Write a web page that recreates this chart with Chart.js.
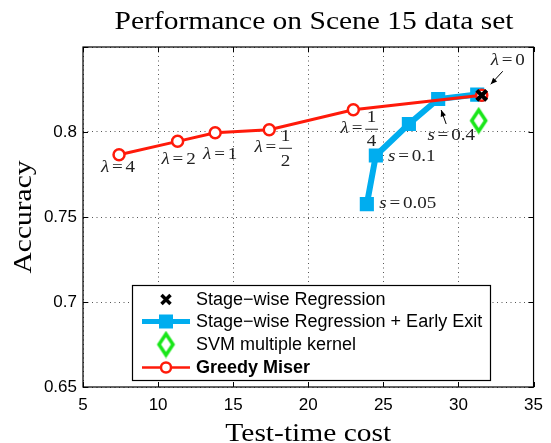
<!DOCTYPE html>
<html>
<head>
<meta charset="utf-8">
<script src="https://cdn.jsdelivr.net/npm/chart.js@4/dist/chart.umd.min.js"></script>
<style>
html,body{margin:0;padding:0;background:#fff;}
#wrap{width:551px;height:443px;position:relative;}
</style>
</head>
<body>
<div id="wrap"><canvas id="c" width="551" height="443"></canvas></div>
<script>
// ---- data ----
const greedyCost = [7.4, 11.3, 13.8, 17.4, 23.0, 31.55];
const greedyAcc  = [0.7866, 0.7945, 0.7996, 0.8013, 0.8131, 0.8216];
const greedyLabels = ['4', '2', '1', '1/2', '1/4', '0'];

const earlyCost = [23.9, 24.5, 26.7, 28.65, 31.25];
const earlyAcc  = [0.7576, 0.7862, 0.8047, 0.8194, 0.8220];
const earlyLabels = ['0.05', '0.1', '', '0.4', ''];

const stageCost = [31.55];
const stageAcc  = [0.8216];

const svmCost = [31.35];
const svmAcc  = [0.8067];

const xTicks = [5, 10, 15, 20, 25, 30, 35];
const yTicks = [0.65, 0.7, 0.75, 0.8];

const legendNames = ['Stage\u2212wise Regression', 'Stage\u2212wise Regression + Early Exit', 'SVM multiple kernel', 'Greedy Miser'];

// ---- styles ----
const RED = '#ff1a0a', BLUE = '#00adef', GREEN = '#18e618';
const SERIF = '"Liberation Serif", "DejaVu Serif", serif';
const SANS = '"Liberation Sans", Arial, sans-serif';
const STRETCH = 1.18;
const MSTRETCH = 1.12;

function diamondCanvas(w, h, lw) {
  const c = document.createElement('canvas');
  c.width = w; c.height = h;
  const g = c.getContext('2d');
  g.strokeStyle = GREEN; g.lineWidth = lw; g.fillStyle = '#fff';
  g.beginPath();
  g.moveTo(w / 2, lw); g.lineTo(w - lw, h / 2); g.lineTo(w / 2, h - lw); g.lineTo(lw, h / 2); g.closePath();
  g.fill(); g.stroke();
  return c;
}
const diamond = diamondCanvas(21, 28, 3.5);

function pts(xs, ys) { return xs.map((x, i) => ({x: x, y: ys[i]})); }

// draw "sym = value" with LaTeX-ish look; value may be fraction "a/b"
function mathLabel(ctx, sym, val, x, y, size) {
  ctx.save();
  ctx.translate(x, y);
  ctx.scale(MSTRETCH, 1);
  ctx.fillStyle = '#222';
  ctx.textBaseline = 'middle';
  ctx.textAlign = 'left';
  const it = 'italic ' + size + 'px ' + SERIF;
  const up = size + 'px ' + SERIF;
  const gap = 2.5;
  ctx.font = it;
  const w1 = ctx.measureText(sym).width;
  ctx.font = up;
  const wEq = ctx.measureText('=').width;
  let total = w1 + wEq + 2 * gap;
  const frac = val.indexOf('/') >= 0;
  let num, den, wv;
  if (frac) { [num, den] = val.split('/'); wv = Math.max(ctx.measureText(num).width, ctx.measureText(den).width) + 3; }
  else { wv = ctx.measureText(val).width; }
  total += wv;
  let cx = -total / 2;
  ctx.font = it; ctx.fillText(sym, cx, 0); cx += w1 + gap;
  ctx.font = up; ctx.fillText('=', cx, 0); cx += wEq + gap;
  if (frac) {
    ctx.textAlign = 'center';
    ctx.fillText(num, cx + wv / 2, -size * 0.68);
    ctx.fillText(den, cx + wv / 2, size * 0.78);
    ctx.strokeStyle = '#222'; ctx.lineWidth = 1;
    ctx.beginPath(); ctx.moveTo(cx, 0.5); ctx.lineTo(cx + wv, 0.5); ctx.stroke();
  } else {
    ctx.fillText(val, cx, 0);
  }
  ctx.restore();
}

function arrow(ctx, x1, y1, x2, y2) {
  ctx.save();
  ctx.strokeStyle = '#000'; ctx.fillStyle = '#000'; ctx.lineWidth = 1;
  ctx.beginPath(); ctx.moveTo(x1, y1); ctx.lineTo(x2, y2); ctx.stroke();
  const a = Math.atan2(y2 - y1, x2 - x1), L = 7, s = 0.4;
  ctx.beginPath();
  ctx.moveTo(x2, y2);
  ctx.lineTo(x2 - L * Math.cos(a - s), y2 - L * Math.sin(a - s));
  ctx.lineTo(x2 - L * Math.cos(a + s), y2 - L * Math.sin(a + s));
  ctx.closePath(); ctx.fill();
  ctx.restore();
}

function stretchedText(ctx, text, x, y, font) {
  ctx.save();
  ctx.font = font;
  ctx.translate(x, y);
  ctx.scale(STRETCH, 1);
  ctx.textAlign = 'center'; ctx.textBaseline = 'alphabetic';
  ctx.fillText(text, 0, 0);
  ctx.restore();
}

const decor = {
  id: 'decor',
  afterDraw(chart) {
    const ctx = chart.ctx, a = chart.chartArea, xs = chart.scales.x, ys = chart.scales.y;
    ctx.save();
    ctx.strokeStyle = '#000'; ctx.lineWidth = 1.2;
    ctx.strokeRect(a.left, a.top, a.right - a.left, a.bottom - a.top);
    ctx.lineWidth = 1;
    ctx.beginPath();
    xTicks.forEach(v => { const p = Math.round(xs.getPixelForValue(v)) + 0.5;
      ctx.moveTo(p, a.bottom); ctx.lineTo(p, a.bottom - 5); ctx.moveTo(p, a.top); ctx.lineTo(p, a.top + 5); });
    [0.65, 0.7, 0.75, 0.8, 0.85].forEach(v => { const p = Math.round(ys.getPixelForValue(v)) + 0.5;
      ctx.moveTo(a.left, p); ctx.lineTo(a.left + 5, p); ctx.moveTo(a.right, p); ctx.lineTo(a.right - 5, p); });
    ctx.stroke();
    ctx.fillStyle = '#000';
    stretchedText(ctx, 'Performance on Scene 15 data set', 314, 29, '25px ' + SERIF);
    stretchedText(ctx, 'Test-time cost', (a.left + a.right) / 2, 441, '25px ' + SERIF);
    ctx.save();
    ctx.translate(31, (a.top + a.bottom) / 2);
    ctx.rotate(-Math.PI / 2);
    stretchedText(ctx, 'Accuracy', 0, 0, '25px ' + SERIF);
    ctx.restore();
    ctx.restore();

    const gx = i => xs.getPixelForValue(greedyCost[i]), gy = i => ys.getPixelForValue(greedyAcc[i]);
    const ex = i => xs.getPixelForValue(earlyCost[i]), ey = i => ys.getPixelForValue(earlyAcc[i]);
    const gOff = [[-1, 13], [1, 18], [5, 22], [4, 18], [6, 19], [26, -35]];
    greedyLabels.forEach((lab, i) => {
      mathLabel(ctx, '\u03bb', lab, gx(i) + gOff[i][0], gy(i) + gOff[i][1], 17);
    });
    arrow(ctx, gx(5) + 21, gy(5) - 24, gx(5) + 9, gy(5) - 11);
    const eOff = [[41, -1], [36, 1], null, [13, 37], null];
    earlyLabels.forEach((lab, i) => {
      if (!lab) return;
      mathLabel(ctx, 's', lab, ex(i) + eOff[i][0], ey(i) + eOff[i][1], 17);
    });
    arrow(ctx, ex(3) + 8, ey(3) + 25, ex(3) + 3, ey(3) + 11);

    const L = {x: 132, y: 285, w: 358, h: 95};
    ctx.save();
    ctx.fillStyle = '#fff'; ctx.fillRect(L.x, L.y, L.w, L.h);
    ctx.strokeStyle = '#000'; ctx.lineWidth = 1.2; ctx.strokeRect(L.x + 0.5, L.y + 0.5, L.w, L.h);
    const rows = [299.5, 321.5, 344.5, 367.5];
    const sx1 = 142, sx2 = 190, mx = 166, tx = 196;
    ctx.strokeStyle = '#000'; ctx.lineWidth = 3.5; ctx.lineCap = 'butt';
    ctx.beginPath(); ctx.moveTo(mx - 4.5, rows[0] - 4.5); ctx.lineTo(mx + 4.5, rows[0] + 4.5);
    ctx.moveTo(mx + 4.5, rows[0] - 4.5); ctx.lineTo(mx - 4.5, rows[0] + 4.5); ctx.stroke();
    ctx.strokeStyle = BLUE; ctx.lineWidth = 5;
    ctx.beginPath(); ctx.moveTo(sx1, rows[1]); ctx.lineTo(sx2, rows[1]); ctx.stroke();
    ctx.fillStyle = BLUE; ctx.fillRect(mx - 7, rows[1] - 7, 14, 14);
    ctx.drawImage(diamond, mx - diamond.width / 2, rows[2] - diamond.height / 2);
    ctx.strokeStyle = RED; ctx.lineWidth = 2.5;
    ctx.beginPath(); ctx.moveTo(sx1, rows[3]); ctx.lineTo(sx2, rows[3]); ctx.stroke();
    ctx.fillStyle = '#fff';
    ctx.beginPath(); ctx.arc(mx, rows[3], 5, 0, Math.PI * 2); ctx.fill(); ctx.stroke();
    ctx.fillStyle = '#000'; ctx.textAlign = 'left'; ctx.textBaseline = 'middle';
    legendNames.forEach((n, i) => {
      ctx.font = (i === 3 ? 'bold ' : '') + '18px ' + SANS;
      ctx.fillText(n, tx, rows[i] + 1);
    });
    ctx.restore();
  }
};

new Chart(document.getElementById('c'), {
  type: 'scatter',
  data: {
    datasets: [
      {label: legendNames[0], data: pts(stageCost, stageAcc), order: 0, showLine: false,
       pointStyle: 'crossRot', pointRadius: 7, borderColor: '#000', borderWidth: 4, backgroundColor: '#000'},
      {label: legendNames[3], data: pts(greedyCost, greedyAcc), order: 1, showLine: true,
       borderColor: RED, borderWidth: 3, pointStyle: 'circle', pointRadius: 5.5, pointBorderWidth: 2.5,
       pointBackgroundColor: '#fff', pointBorderColor: RED},
      {label: legendNames[2], data: pts(svmCost, svmAcc), order: 2, showLine: false,
       pointStyle: diamond, pointRadius: 10},
      {label: legendNames[1], data: pts(earlyCost, earlyAcc), order: 3, showLine: true,
       borderColor: BLUE, borderWidth: 6, pointStyle: 'rect', pointRadius: 10, pointBorderWidth: 0,
       pointBackgroundColor: BLUE, pointBorderColor: BLUE}
    ]
  },
  options: {
    responsive: false,
    animation: false,
    events: [],
    layout: {padding: {top: 47, right: 11, left: 0, bottom: 0}},
    plugins: {legend: {display: false}, tooltip: {enabled: false}, title: {display: false}},
    scales: {
      x: {
        type: 'linear', min: 5, max: 35,
        afterBuildTicks: s => { s.ticks = xTicks.map(v => ({value: v})); },
        afterFit: s => { s.height = 56; },
        border: {display: false, dash: [1, 3.5]},
        grid: {color: '#555', lineWidth: 1, drawTicks: false},
        ticks: {color: '#000', font: {family: SANS, size: 17}, padding: 8, maxRotation: 0}
      },
      y: {
        type: 'linear', min: 0.65, max: 0.85,
        afterBuildTicks: s => { s.ticks = [0.65, 0.7, 0.75, 0.8, 0.85].map(v => ({value: v})); },
        afterFit: s => { s.width = 83; },
        border: {display: false, dash: [1, 3.5]},
        grid: {color: '#555', lineWidth: 1, drawTicks: false},
        ticks: {color: '#000', font: {family: SANS, size: 17}, padding: 6,
          callback: v => yTicks.some(t => Math.abs(t - v) < 1e-6) ? String(+v.toFixed(2)) : ''}
      }
    }
  },
  plugins: [decor]
});
</script>
</body>
</html>
